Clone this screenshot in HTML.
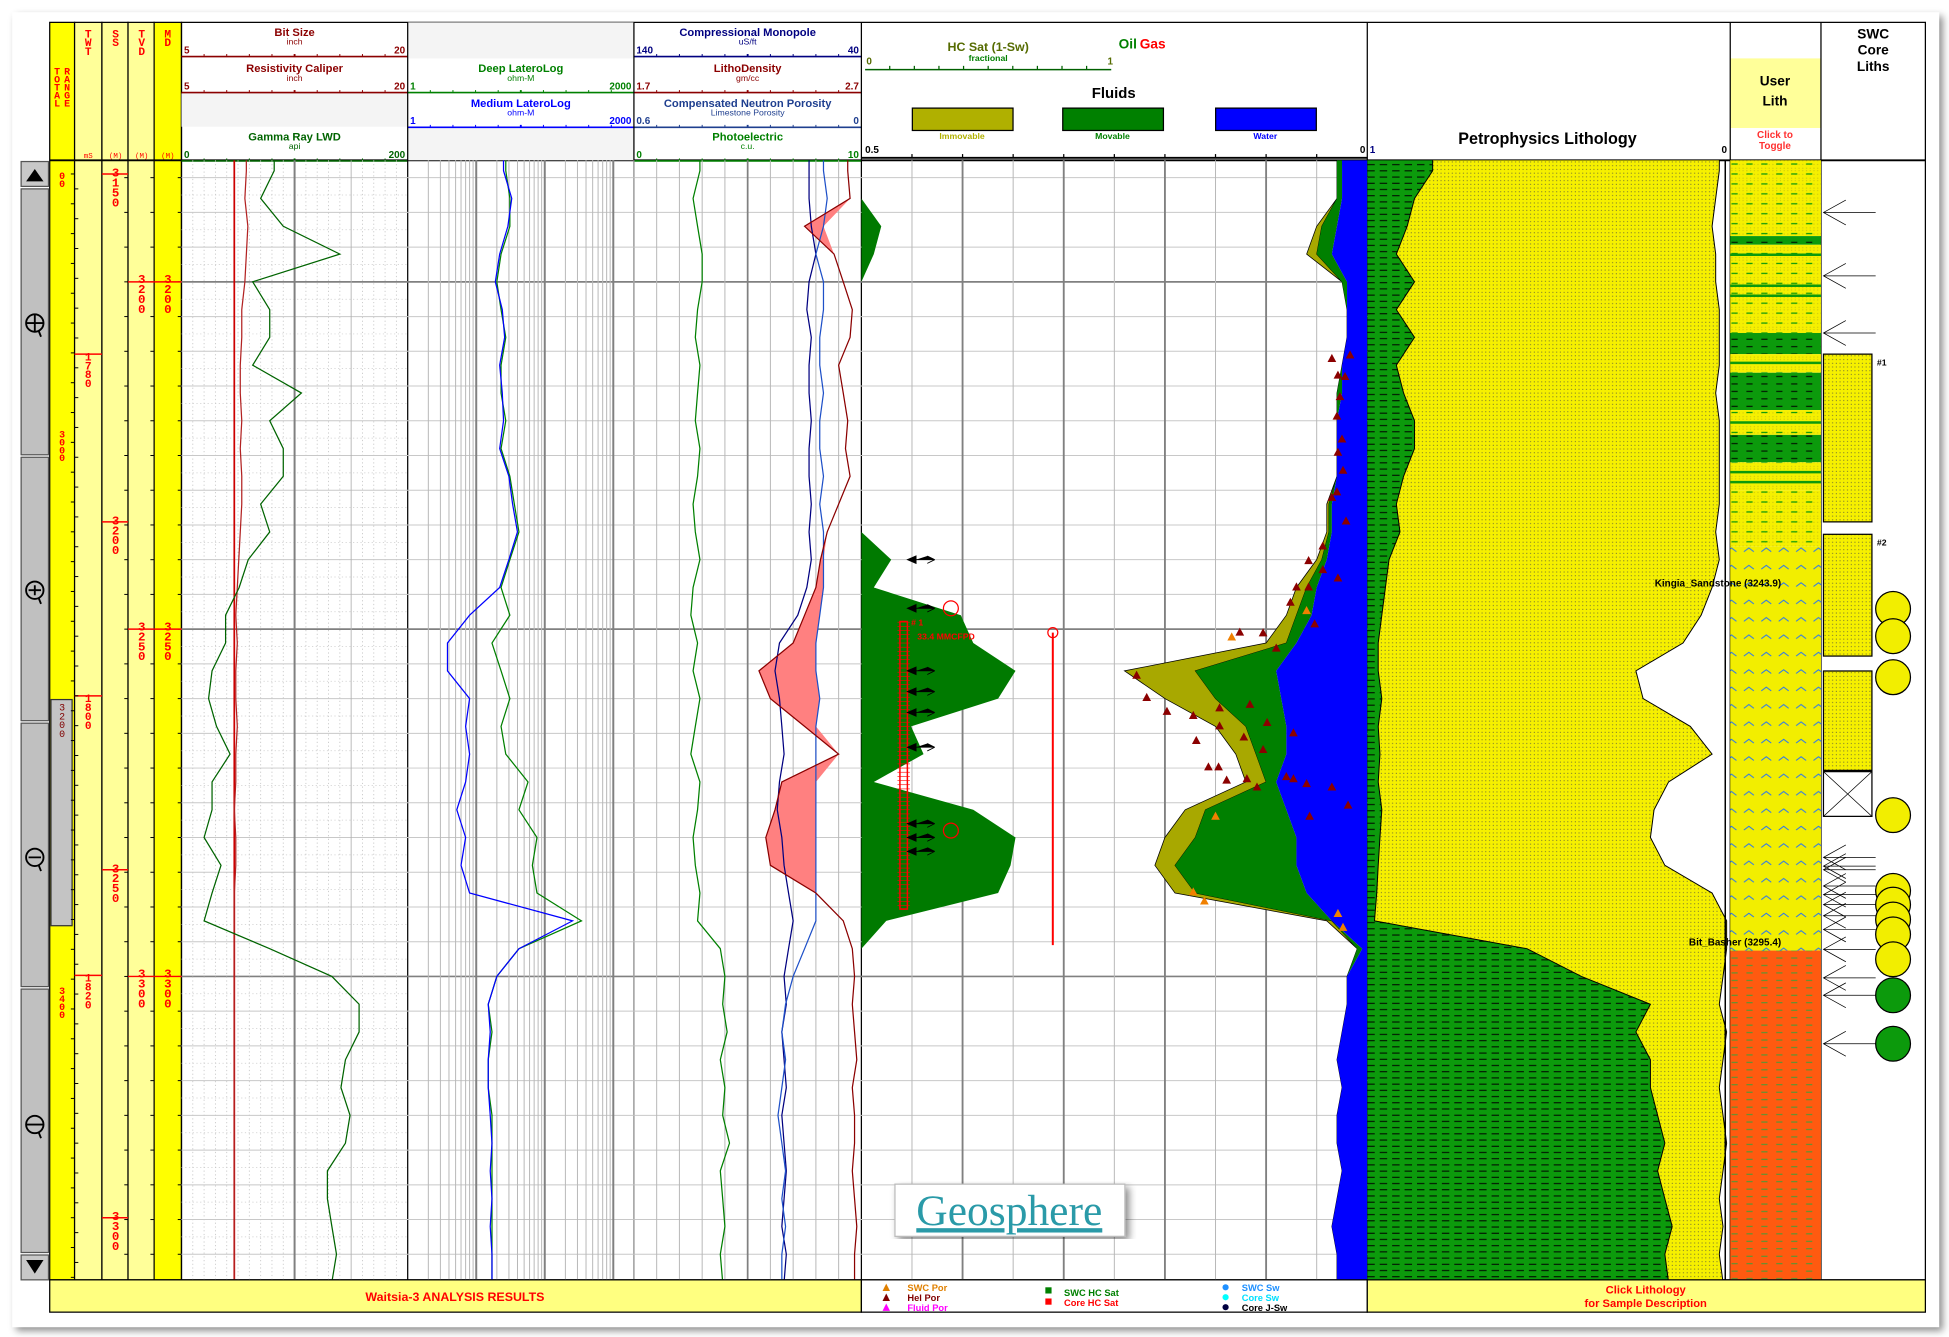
<!DOCTYPE html>
<html><head><meta charset="utf-8"><title>Waitsia-3 Analysis Results</title>
<style>
html,body{margin:0;padding:0;background:#fff;overflow:hidden}
svg{display:block;font-family:"Liberation Sans Narrow","Liberation Sans",sans-serif}
.t{font-weight:bold;text-anchor:middle}
</style></head><body>
<svg id="chart" xmlns="http://www.w3.org/2000/svg" viewBox="0 0 1568 1076" width="1949" height="1337" preserveAspectRatio="none">
<defs>
<filter id="sh" x="-5%" y="-5%" width="110%" height="110%"><feDropShadow dx="3" dy="3" stdDeviation="3" flood-color="#000" flood-opacity="0.45"/></filter>
<pattern id="shalePat" width="10" height="5" patternUnits="userSpaceOnUse"><rect width="10" height="5" fill="#0c9a0c"/><line x1="0" y1="2.5" x2="6" y2="2.5" stroke="#000" stroke-width="0.8"/></pattern>
<pattern id="sandPat" width="3" height="3" patternUnits="userSpaceOnUse"><rect width="3" height="3" fill="#f6f000"/><rect x="1" y="1" width="0.7" height="0.7" fill="#444"/></pattern>
<pattern id="ulSand" width="12" height="8" patternUnits="userSpaceOnUse"><rect width="12" height="8" fill="url(#sandPat)"/><rect width="12" height="8" fill="#f6f000" opacity="0.6"/><line x1="1" y1="4" x2="6" y2="4" stroke="#0a9a0a" stroke-width="1"/></pattern>
<pattern id="ulTri" width="14" height="14" patternUnits="userSpaceOnUse"><rect width="14" height="14" fill="#f2ee00"/><path d="M3 10 L7 7 L11 10" fill="none" stroke="#1e6fff" stroke-width="0.8"/></pattern>
<pattern id="ulOrange" width="12" height="6" patternUnits="userSpaceOnUse"><rect width="12" height="6" fill="#ff5a10"/><line x1="1" y1="3" x2="6" y2="3" stroke="#3aa03a" stroke-width="0.8"/></pattern>
<pattern id="ulGreen" width="12" height="6" patternUnits="userSpaceOnUse"><rect width="12" height="6" fill="#0c9a0c"/><line x1="1" y1="3" x2="6" y2="3" stroke="#000" stroke-width="0.8"/></pattern>
<clipPath id="c1"><rect x="146" y="129" width="182" height="901"/></clipPath>
<clipPath id="c2"><rect x="328" y="129" width="182" height="901"/></clipPath>
<clipPath id="c3"><rect x="510" y="129" width="183" height="901"/></clipPath>
<clipPath id="c4"><rect x="693" y="129" width="407" height="901"/></clipPath>
<clipPath id="c5"><rect x="1100" y="129" width="292" height="901"/></clipPath>
</defs>
<rect x="0" y="0" width="1568" height="1076" fill="#fff"/>
<rect x="10" y="10" width="1550" height="1058" fill="#fff" filter="url(#sh)"/>

<rect x="40" y="18" width="20" height="1012" fill="#ffff00" stroke="#000" stroke-width="1"/>
<rect x="60" y="18" width="22" height="1012" fill="#ffff99" stroke="#000" stroke-width="1"/>
<rect x="82" y="18" width="21" height="1012" fill="#ffff99" stroke="#000" stroke-width="1"/>
<rect x="103" y="18" width="21" height="1012" fill="#ffff99" stroke="#000" stroke-width="1"/>
<rect x="124" y="18" width="22" height="1012" fill="#ffff00" stroke="#000" stroke-width="1"/>
<g id="depthText" fill="#ff0000" font-family="Liberation Mono,monospace" font-size="9" text-anchor="middle"></g>

<g>
<rect x="17" y="130" width="22" height="20" fill="#c8c8c8" stroke="#555"/>
<path d="M21 146 L28 136 L35 146 Z" fill="#000"/>
<rect x="17" y="152" width="22" height="214" fill="#c0c0c0" stroke="#555"/>
<rect x="17" y="368" width="22" height="212" fill="#c0c0c0" stroke="#555"/>
<rect x="17" y="582" width="22" height="212" fill="#c0c0c0" stroke="#555"/>
<rect x="17" y="796" width="22" height="212" fill="#c0c0c0" stroke="#555"/>
<rect x="17" y="1010" width="22" height="20" fill="#c8c8c8" stroke="#555"/>
<path d="M21 1014 L28 1025 L35 1014 Z" fill="#000"/>
<g fill="none" stroke="#000" stroke-width="1.5">
<circle cx="28" cy="260" r="7"/><path d="M21 260 H35 M28 253 V267 M31 266 L33 271"/>
<circle cx="28" cy="475" r="7"/><path d="M23 475 H33 M28 471 V479 M31 481 L33 486"/>
<circle cx="28" cy="690" r="7"/><path d="M23 690 H33 M31 696 L33 701"/>
<circle cx="28" cy="905" r="7"/><path d="M21 905 H35 M31 911 L33 916"/>
</g>
<rect x="41" y="563" width="17" height="182" fill="#c4c4c4" stroke="#333"/>
<text x="50" y="572" font-size="8" fill="#800000" font-family="Liberation Mono,monospace" text-anchor="middle"><tspan x="50" dy="0">3</tspan><tspan x="50" dy="7">2</tspan><tspan x="50" dy="7">0</tspan><tspan x="50" dy="7">0</tspan></text>
</g>

<rect x="146" y="18" width="1403" height="1012" fill="none" stroke="#000" stroke-width="1"/>
<line x1="40" y1="129" x2="1549" y2="129" stroke="#000" stroke-width="1.5"/>
<rect x="146" y="75" width="182" height="27" fill="#f4f4f4"/>
<rect x="328" y="18" width="182" height="29" fill="#f4f4f4"/>
<rect x="328" y="102" width="182" height="27" fill="#f4f4f4"/>
<g id="hdr"></g>

<g font-size="8" fill="#000">
<text class="t" x="795" y="41" font-size="10" fill="#556b00">HC Sat (1-Sw)</text>
<text class="t" x="795" y="49" font-size="7" fill="#008000">fractional</text>
<text x="697" y="52" font-size="8" fill="#556b00" font-weight="bold">0</text>
<text x="891" y="52" font-size="8" fill="#556b00" font-weight="bold">1</text>
<line x1="696" y1="56" x2="894" y2="56" stroke="#006000" stroke-width="1.2"/>
<text x="900" y="39" font-size="11" font-weight="bold" fill="#008000">Oil</text>
<text x="917" y="39" font-size="11" font-weight="bold" fill="#ff0000">Gas</text>
<text class="t" x="896" y="79" font-size="12" fill="#000">Fluids</text>
<rect x="734" y="87" width="81" height="18" fill="#b0b000" stroke="#000"/>
<rect x="855" y="87" width="81" height="18" fill="#008000" stroke="#000"/>
<rect x="978" y="87" width="81" height="18" fill="#0000ff" stroke="#000"/>
<text class="t" x="774" y="112" font-size="7" fill="#b0b000">Immovable</text>
<text class="t" x="895" y="112" font-size="7" fill="#008000">Movable</text>
<text class="t" x="1018" y="112" font-size="7" fill="#0000ff">Water</text>
<text x="696" y="123" font-size="8" font-weight="bold">0.5</text>
<text x="1094" y="123" font-size="8" font-weight="bold">0</text>
<line x1="693" y1="127" x2="1100" y2="127" stroke="#000" stroke-width="1.5"/>
<text class="t" x="1245" y="116" font-size="13" fill="#000" font-family="Liberation Sans,sans-serif">Petrophysics Lithology</text>
<text x="1102" y="123" font-size="8" font-weight="bold" fill="#000080">1</text>
<text x="1385" y="123" font-size="8" font-weight="bold">0</text>
<rect x="1392" y="47" width="73" height="56" fill="#ffff99"/>
<text class="t" x="1428" y="69" font-size="11">User</text>
<text class="t" x="1428" y="85" font-size="11">Lith</text>
<text class="t" x="1428" y="111" font-size="8" fill="#ff3030" font-weight="normal">Click to</text>
<text class="t" x="1428" y="120" font-size="8" fill="#ff3030" font-weight="normal">Toggle</text>
<text class="t" x="1507" y="31" font-size="11">SWC</text>
<text class="t" x="1507" y="44" font-size="11">Core</text>
<text class="t" x="1507" y="57" font-size="11">Liths</text>
</g>
<line x1="693" y1="18" x2="693" y2="1056" stroke="#000"/>
<line x1="1100" y1="18" x2="1100" y2="1056" stroke="#000"/>
<line x1="1392" y1="18" x2="1392" y2="1030" stroke="#000"/>
<line x1="1465" y1="18" x2="1465" y2="1030" stroke="#000"/>
<line x1="328" y1="18" x2="328" y2="1030" stroke="#000"/>
<line x1="510" y1="18" x2="510" y2="1030" stroke="#000"/>

<g id="grid"></g>
<g id="curves"></g>

<rect x="40" y="1030" width="653" height="26" fill="#ffff80" stroke="#000"/>
<text class="t" x="366" y="1047" font-size="10" fill="#ff0000">Waitsia-3 ANALYSIS RESULTS</text>
<rect x="693" y="1030" width="407" height="26" fill="#fff" stroke="#000"/>
<rect x="1100" y="1030" width="449" height="26" fill="#ffff80" stroke="#000"/>
<text class="t" x="1324" y="1041" font-size="9" fill="#ff0000">Click Lithology</text>
<text class="t" x="1324" y="1052" font-size="9" fill="#ff0000">for Sample Description</text>
<g font-size="7.5" font-weight="bold">
<path d="M710 1039 L713 1033 L716 1039Z" fill="#e08000"/><text x="730" y="1039" fill="#e08000">SWC Por</text>
<path d="M710 1047 L713 1041 L716 1047Z" fill="#800000"/><text x="730" y="1047" fill="#800000">Hel Por</text>
<path d="M710 1055 L713 1049 L716 1055Z" fill="#ff00ff"/><text x="730" y="1055" fill="#ff00ff">Fluid Por</text>
<rect x="841" y="1036" width="5" height="5" fill="#008000"/><text x="856" y="1043" fill="#008000">SWC HC Sat</text>
<rect x="841" y="1045" width="5" height="5" fill="#ff0000"/><text x="856" y="1051" fill="#ff0000">Core HC Sat</text>
<circle cx="986" cy="1036" r="2.5" fill="#1e90ff"/><text x="999" y="1039" fill="#1e90ff">SWC Sw</text>
<circle cx="986" cy="1044" r="2.5" fill="#00ffff"/><text x="999" y="1047" fill="#00e0ff">Core Sw</text>
<circle cx="986" cy="1052" r="2.5" fill="#000040"/><text x="999" y="1055" fill="#000">Core J-Sw</text>
</g>

<g>
<rect x="720" y="953" width="185" height="42" fill="#fff" stroke="#bbb" filter="url(#sh)"/>
<text x="812" y="986" text-anchor="middle" font-family="Liberation Serif,serif" font-size="35" fill="#2a9aa8" text-decoration="underline">Geosphere</text>
</g>
</svg>
<script>
const depths=[3184,3188,3192,3196,3200,3204,3208,3212,3216,3220,3224,3228,3232,3236,3240,3244,3248,3252,3256,3260,3264,3268,3272,3276,3280,3284,3288,3292,3296,3300,3304,3308,3312,3316,3320,3324,3328,3332,3336,3340,3344];
const grApi=[82,70,90,140,63,78,78,63,106,78,90,90,70,78,59,51,39,39,27,24,31,43,27,27,20,35,27,20,78,133,157,157,145,141,149,145,129,129,133,137,133];
const calInch=[9.3,9.2,9.4,9.3,9.2,9.0,9.0,8.9,8.9,9.0,8.9,9.0,9.0,8.9,8.8,8.7,8.6,8.7,8.6,8.6,8.7,8.6,8.6,8.5,8.6,8.6,8.5,8.5,8.5,8.5,8.5,8.5,8.5,8.5,8.5,8.5,8.5,8.5,8.5,8.5,8.5];
const bitInch=[8.5,8.5,8.5,8.5,8.5,8.5,8.5,8.5,8.5,8.5,8.5,8.5,8.5,8.5,8.5,8.5,8.5,8.5,8.5,8.5,8.5,8.5,8.5,8.5,8.5,8.5,8.5,8.5,8.5,8.5,8.5,8.5,8.5,8.5,8.5,8.5,8.5,8.5,8.5,8.5,8.5];
const deepRes=[27,31,31,23,20,23,27,23,23,27,23,31,36,42,31,23,31,17,23,31,23,27,57,42,77,66,77,343,42,20,15,17,15,15,17,17,17,17,17,17,17];
const medRes=[25,33,29,22,19,24,26,22,24,25,22,30,34,40,30,22,8,3.8,3.8,8,7,8,7,5.2,7,6,8,254,42,20,15,16,15,15,16,17,16,17,16,17,17];
const dtUs=[63,63,62,60,63,64,62,63,63,62,63,63,62,63,62,64,68,76,78,76,75,74,76,77,75,74,72,70,72,74,73,75,74,73,75,74,73,74,75,73,74];
const nphiV=[0.10,0.09,0.10,0.12,0.10,0.10,0.11,0.11,0.10,0.11,0.11,0.10,0.11,0.10,0.10,0.10,0.11,0.12,0.12,0.11,0.12,0.12,0.12,0.12,0.12,0.12,0.12,0.12,0.15,0.18,0.20,0.21,0.20,0.21,0.22,0.21,0.20,0.21,0.20,0.21,0.21];
const rhobV=[2.64,2.65,2.45,2.58,2.62,2.66,2.65,2.60,2.62,2.64,2.63,2.65,2.60,2.55,2.52,2.50,2.45,2.40,2.25,2.30,2.45,2.60,2.35,2.32,2.28,2.30,2.50,2.62,2.66,2.67,2.66,2.67,2.68,2.66,2.67,2.67,2.66,2.67,2.68,2.67,2.67];
const peV=[2.9,2.6,2.8,3.0,3.0,2.8,2.7,2.9,2.8,2.7,2.9,2.8,2.6,2.7,2.9,2.6,2.5,2.8,2.6,2.9,2.7,2.5,2.9,2.8,2.6,2.7,2.9,2.8,3.8,4.0,3.9,4.1,3.8,4.0,3.9,4.2,3.8,3.9,4.0,3.8,3.9];
const hcSat=[0,0,0.08,0.05,0,0,0,0,0,0,0,0,0,0,0.12,0.05,0.4,0.45,0.62,0.55,0.2,0.25,0.05,0.45,0.62,0.6,0.55,0.1,0,0,0,0,0,0,0,0,0,0,0,0,0];
const phieV=[0.03,0.03,0.05,0.06,0.025,0.02,0.02,0.025,0.03,0.03,0.03,0.03,0.04,0.04,0.05,0.07,0.08,0.10,0.24,0.20,0.15,0.13,0.12,0.18,0.20,0.21,0.19,0.04,0.01,0.02,0.02,0.025,0.03,0.025,0.03,0.03,0.025,0.03,0.035,0.03,0.03];
const bviV=[0.03,0.03,0.045,0.05,0.025,0.02,0.02,0.025,0.03,0.03,0.03,0.03,0.038,0.038,0.045,0.06,0.07,0.08,0.17,0.15,0.12,0.11,0.10,0.16,0.17,0.19,0.17,0.035,0.01,0.02,0.02,0.025,0.03,0.025,0.03,0.03,0.025,0.03,0.035,0.03,0.03];
const bvwV=[0.025,0.025,0.03,0.035,0.02,0.02,0.02,0.025,0.025,0.03,0.03,0.03,0.035,0.035,0.04,0.05,0.055,0.07,0.09,0.085,0.08,0.08,0.09,0.08,0.07,0.07,0.06,0.035,0.005,0.02,0.02,0.025,0.03,0.025,0.03,0.03,0.025,0.03,0.035,0.03,0.03];
const vshV=[0.18,0.13,0.11,0.08,0.13,0.08,0.13,0.08,0.10,0.13,0.13,0.10,0.08,0.09,0.06,0.05,0.04,0.03,0.03,0.04,0.03,0.035,0.03,0.04,0.035,0.03,0.026,0.02,0.44,0.59,0.78,0.74,0.78,0.78,0.80,0.82,0.80,0.82,0.84,0.82,0.83];
const matrixV=[0.97,0.96,0.95,0.96,0.96,0.97,0.97,0.97,0.96,0.97,0.97,0.97,0.97,0.96,0.97,0.95,0.92,0.87,0.74,0.76,0.89,0.95,0.83,0.79,0.78,0.82,0.95,0.99,0.99,0.98,0.97,0.99,0.98,0.97,0.98,0.99,0.98,0.97,0.98,0.97,0.98];
const helDepth=[3210.5,3211.0,3213.4,3213.6,3216.5,3219.3,3222.6,3224.5,3227.1,3231.0,3230.2,3234.4,3238.0,3240.1,3241.4,3242.6,3243.9,3243.9,3246.1,3249.2,3252.7,3250.5,3250.4,3256.6,3259.8,3261.8,3262.4,3261.3,3260.8,3263.4,3263.9,3266.0,3265.5,3267.3,3264.9,3269.8,3269.8,3271.7,3271.5,3272.7,3271.2,3271.5,3272.2,3272.7,3276.9,3275.3];
const helPor=[0.017,0.035,0.029,0.022,0.027,0.030,0.025,0.029,0.024,0.035,0.030,0.021,0.044,0.058,0.044,0.029,0.070,0.058,0.076,0.052,0.090,0.103,0.126,0.228,0.218,0.198,0.172,0.146,0.116,0.099,0.146,0.169,0.122,0.103,0.073,0.157,0.147,0.139,0.119,0.109,0.080,0.073,0.060,0.035,0.057,0.019];
const swcDepth=[3247.3,3251.1,3276.9,3287.8,3289.1,3290.9,3292.9];
const swcPor=[0.060,0.134,0.150,0.172,0.161,0.029,0.024];
const mdTicks=[3200,3250,3300];
const ssTicks=[3150,3200,3250,3300];
const twtTicks=[1780,1800,1820];

const NS='http://www.w3.org/2000/svg';
const TOP=129, BOT=1030;
const Y=d=>129+(d-3182.5)*5.59;
const xGR=v=>146+v/200*182;
const xCal=v=>146+(v-5)/15*182;
const xRes=v=>328+Math.log10(v)/Math.log10(2000)*182;
const xDT=v=>510+(140-v)/100*183;
const xNPHI=v=>510+(0.6-v)/0.6*183;
const xRHOB=v=>510+(v-1.7)/1.0*183;
const xPE=v=>510+v/10*183;
const xHC=v=>693+v*200;
const xPor=v=>1100-v/0.5*407;
const xLith=v=>1100+v*292;

function mk(tag,attrs,parent){const e=document.createElementNS(NS,tag);for(const k in attrs)e.setAttribute(k,attrs[k]);parent.appendChild(e);return e;}
const grid=document.getElementById('grid');
const curves=document.getElementById('curves');
const hdr=document.getElementById('hdr');
const dtext=document.getElementById('depthText');

const hdrRows=[
 [146,18,'Bit Size','inch','5','20','#8b0000'],
 [146,47,'Resistivity Caliper','inch','5','20','#8b0000'],
 [146,102,'Gamma Ray LWD','api','0','200','#006400'],
 [328,47,'Deep LateroLog','ohm-M','1','2000','#008000'],
 [328,75,'Medium LateroLog','ohm-M','1','2000','#0000ff'],
 [510,18,'Compressional Monopole','uS/ft','140','40','#000080'],
 [510,47,'LithoDensity','gm/cc','1.7','2.7','#8b0000'],
 [510,75,'Compensated Neutron Porosity','Limestone Porosity','0.6','0','#1f3f8f'],
 [510,102,'Photoelectric','c.u.','0','10','#008000']
];
hdrRows.forEach(r=>{
 const [x,y,title,unit,lo,hi,c]=r;
 const g=mk('g',{},hdr);
 
 
 const w=(x===510?183:182);
 mk('text',{x:x+w/2,y:y+11,'font-size':9,'font-weight':'bold','text-anchor':'middle',fill:c},g).textContent=title;
 mk('text',{x:x+w/2,y:y+18,'font-size':7,'text-anchor':'middle',fill:c},g).textContent=unit;
 mk('text',{x:x+2,y:y+25,'font-size':8,'font-weight':'bold',fill:c},g).textContent=lo;
 mk('text',{x:x+w-2,y:y+25,'font-size':8,'font-weight':'bold','text-anchor':'end',fill:c},g).textContent=hi;
 mk('line',{x1:x,y1:y+27.5,x2:x+w,y2:y+27.5,stroke:c,'stroke-width':1.3},g);
 for(let i=1;i<10;i++)mk('line',{x1:x+w*i/10,y1:y+25.5,x2:x+w*i/10,y2:y+27.5,stroke:c,'stroke-width':i===5?1.5:0.8},g);
});
for(let i=1;i<10;i++){mk('line',{x1:696+19.8*i,y1:53,x2:696+19.8*i,y2:56,stroke:'#006000'},hdr);}
for(let i=1;i<10;i++){mk('line',{x1:693+40.7*i,y1:124,x2:693+40.7*i,y2:127,stroke:'#000'},hdr);}

for(let d=3185;d<=3340;d+=5){
 const y=Y(d);const major=(d%50===0);
 const l=mk('line',{x1:146,y1:y,x2:1100,y2:y,stroke:major?'#808080':'#c8c8c8','stroke-width':major?1.4:0.8},grid);
 
 
}
for(let d=3185+2.5;d<=3342;d+=5){mk('line',{x1:146,y1:Y(d),x2:328,y2:Y(d),stroke:'#ccc','stroke-width':0.6,'stroke-dasharray':'1,2'},grid);}
for(let v=10;v<200;v+=10){const x=xGR(v);mk('line',{x1:x,y1:TOP,x2:x,y2:BOT,stroke:v===100?'#808080':(v===150?'#b0b0b0':'#c8c8c8'),'stroke-width':v===100?1.6:0.7,'stroke-dasharray':(v===100||v===150)?'':'1,2'},grid);}
[1,10,100,1000].forEach(dec=>{for(let m=1;m<10;m++){const v=dec*m;if(v>2000||v===1)continue;const x=xRes(v);mk('line',{x1:x,y1:TOP,x2:x,y2:BOT,stroke:m===1?'#808080':'#b8b8b8','stroke-width':m===1?1.6:0.8},grid);}});
for(let i=1;i<10;i++){const x=510+18.3*i;mk('line',{x1:x,y1:TOP,x2:x,y2:BOT,stroke:i===5?'#808080':'#b8b8b8','stroke-width':i===5?1.4:0.8},grid);}
for(let i=1;i<10;i++){const x=1100-40.7*i;mk('line',{x1:x,y1:TOP,x2:x,y2:BOT,stroke:i%2===0?'#808080':'#b8b8b8','stroke-width':i%2===0?1.5:0.8},grid);}

function vtext(x,y,s,fs){const t=mk('text',{x:x,y:y,'font-size':fs||10,'font-weight':'bold'},dtext);for(let i=0;i<s.length;i++){const sp=mk('tspan',{x:x,dy:i===0?0:(fs||10)*0.8},t);sp.textContent=s[i];}return t;}
for(let d=3185;d<=3340;d+=5){const y=Y(d);[[82,103],[103,124],[124,146]].forEach(c=>{mk('line',{x1:c[1]-3,y1:y,x2:c[1],y2:y,stroke:'#000','stroke-width':0.8},grid);});}
mdTicks.forEach(d=>{const y=Y(d);
 let t=vtext(135,y+1,String(d),10);
 t=vtext(114,y+1,String(d),10);
 mk('line',{x1:124,y1:y,x2:146,y2:y,stroke:'#ff0000','stroke-width':1.2},grid);
 mk('line',{x1:103,y1:y,x2:124,y2:y,stroke:'#ff0000','stroke-width':1.2},grid);
});
const ssY=[150,430,710,990];
ssTicks.forEach((d,i)=>{const t=vtext(93,ssY[i]-8,String(d),10);mk('line',{x1:82,y1:ssY[i]-10,x2:103,y2:ssY[i]-10,stroke:'#ff0000','stroke-width':1.2},grid);});
const twtY=[290,565,790];
twtTicks.forEach((d,i)=>{const t=vtext(71,twtY[i],String(d),9);mk('line',{x1:60,y1:twtY[i]-5,x2:82,y2:twtY[i]-5,stroke:'#ff0000','stroke-width':1.2},grid);});
vtext(50,144,'00',8);vtext(50,352,'3000',8);vtext(50,800,'3400',8);
vtext(71,30,'TWT',9);vtext(93,30,'SS',9);vtext(114,30,'TVD',9);vtext(135,30,'MD',9);
vtext(46,60,'TOTAL',8);vtext(54,60,'RANGE',8);
mk('text',{x:71,y:127,'font-size':6},dtext).textContent='mS';
mk('text',{x:93,y:127,'font-size':6},dtext).textContent='(M)';
mk('text',{x:114,y:127,'font-size':6},dtext).textContent='(M)';
mk('text',{x:135,y:127,'font-size':6},dtext).textContent='(M)';
for(let y=140;y<1030;y+=24){mk('line',{x1:57,y1:y,x2:60,y2:y,stroke:'#000','stroke-width':0.8},grid);mk('line',{x1:60,y1:y+12,x2:63,y2:y+12,stroke:'#000','stroke-width':0.8},grid);}

function pts(vals,xf){const p=[];p.push(xf(vals[0])+','+TOP);depths.forEach((d,i)=>p.push(xf(vals[i]).toFixed(1)+','+Y(d).toFixed(1)));p.push(xf(vals[vals.length-1])+','+BOT);return p;}
function line(vals,xf,color,w,clip){const e=mk('polyline',{points:pts(vals,xf).join(' '),fill:'none',stroke:color,'stroke-width':w,'clip-path':'url(#'+clip+')'},curves);return e;}
function band(leftVals,lxf,rightVals,rxf,fill,clip,stroke){
 const a=pts(leftVals,lxf), b=pts(rightVals,rxf).reverse();
 return mk('polygon',{points:a.concat(b).join(' '),fill:fill,stroke:stroke||'none','stroke-width':0.6,'clip-path':'url(#'+clip+')'},curves);
}
const zeros=depths.map(()=>0);

let e;
e=line(bitInch,xCal,'#cc0000',1.4,'c1');
e=line(calInch,xCal,'#b22222',1,'c1');
e=line(grApi,xGR,'#006400',1,'c1');
e=line(deepRes,xRes,'#008000',1,'c2');
e=line(medRes,xRes,'#0000ff',1,'c2');
const crossRight=depths.map((d,i)=>Math.max(xRHOB(rhobV[i]),xNPHI(nphiV[i])));
e=band(rhobV,xRHOB,crossRight,v=>v,'#ff8080','c3');
e=line(peV,xPE,'#008000',1,'c3');
e=line(dtUs,xDT,'#000080',1,'c3');
e=line(nphiV,xNPHI,'#1e50c8',1,'c3');
e=line(rhobV,xRHOB,'#8b0000',1,'c3');
e=band(zeros,xHC,hcSat,xHC,'#007a00','c4');
e=band(phieV,xPor,bviV,xPor,'#a8a800','c4','#000');
e=band(bviV,xPor,bvwV,xPor,'#008000','c4');
e=band(bvwV,xPor,zeros,xPor,'#0000ff','c4');
helDepth.forEach((d,i)=>{const x=xPor(helPor[i]),y=Y(d);
 const t=mk('path',{d:`M${x-3.5} ${y+3} L${x} ${y-3.5} L${x+3.5} ${y+3}Z`,fill:'#8b0000'},curves);
 
 });
swcDepth.forEach((d,i)=>{const x=xPor(swcPor[i]),y=Y(d);
 const t=mk('path',{d:`M${x-3.5} ${y+3} L${x} ${y-3.5} L${x+3.5} ${y+3}Z`,fill:'#f08000'},curves);
 
 });
const perf=mk('g',{},curves);


mk('rect',{x:724,y:Y(3248.9),width:6,height:Y(3290.3)-Y(3248.9),fill:'none',stroke:'#ff0000','stroke-width':1.2},perf);
for(let d=3249;d<3290;d+=0.6)mk('line',{x1:722,y1:Y(d),x2:732,y2:Y(d),stroke:'#ff0000','stroke-width':0.5},perf);
mk('line',{x1:847,y1:Y(3250.5),x2:847,y2:Y(3295.5),stroke:'#ff0000','stroke-width':1.6},perf);
mk('circle',{cx:847,cy:Y(3250.5),r:4,fill:'none',stroke:'#ff0000'},perf);
mk('circle',{cx:765,cy:Y(3247),r:6,fill:'none',stroke:'#ff0000'},perf);
mk('circle',{cx:765,cy:Y(3279),r:6,fill:'none',stroke:'#ff0000'},perf);
const tt=mk('text',{x:733,y:Y(3249.5),'font-size':7,fill:'#ff0000','font-weight':'bold'},perf);tt.textContent='# 1';
const tt2=mk('text',{x:738,y:Y(3251.5),'font-size':7,fill:'#ff0000','font-weight':'bold'},perf);tt2.textContent='33.4 MMCFPD';
[3240,3247,3256,3259,3262,3267,3278,3280,3282].forEach(d=>{const y=Y(d);mk('path',{d:`M730 ${y} L737 ${y-3} L737 ${y+3}Z M737 ${y} H752 L746 ${y-3} M752 ${y} L746 ${y+3}`,fill:'#000',stroke:'#000','stroke-width':0.7},perf);});
e=band(zeros,xLith,vshV,xLith,'url(#shalePat)','c5');
e=band(vshV,xLith,matrixV,xLith,'url(#sandPat)','c5');
e=line(vshV,xLith,'#000',0.8,'c5');
e=line(matrixV,xLith,'#000',0.8,'c5');
mk('line',{x1:1388,y1:TOP,x2:1388,y2:BOT,stroke:'#000','stroke-width':1.2},curves);

const ul=mk('g',{},curves);


[[129,190,'url(#ulSand)'],[190,197,'url(#ulGreen)'],[197,268,'url(#ulSand)'],[268,285,'url(#ulGreen)'],[285,300,'url(#ulSand)'],[300,330,'url(#ulGreen)'],[330,350,'url(#ulSand)'],[350,372,'url(#ulGreen)'],[372,395,'url(#ulSand)'],[395,440,'url(#ulSand)'],[440,765,'url(#ulTri)'],[765,1030,'url(#ulOrange)']].forEach(b=>{
 mk('rect',{x:1392,y:b[0],width:73,height:b[1]-b[0],fill:b[2]},ul);});
[205,230,238,292,340,380,388].forEach(y=>mk('line',{x1:1392,y1:y,x2:1465,y2:y,stroke:'#0c9a0c','stroke-width':2},ul));
const k1=mk('text',{x:1433,y:472,'font-size':8,'font-weight':'bold','text-anchor':'end',fill:'#000'},ul);k1.textContent='Kingia_Sandstone (3243.9)';
const k2=mk('text',{x:1433,y:761,'font-size':8,'font-weight':'bold','text-anchor':'end',fill:'#000'},ul);k2.textContent='Bit_Basher (3295.4)';

const sw=mk('g',{},curves);


[[285,420,'#1'],[430,528,'#2'],[540,620,'#3']].forEach(b=>{mk('rect',{x:1467,y:b[0],width:39,height:b[1]-b[0],fill:'url(#sandPat)',stroke:'#000'},sw);const t=mk('text',{x:1510,y:b[0]+9,'font-size':7,'font-weight':'bold'},sw);t.textContent=b[2];});
mk('rect',{x:1467,y:621,width:39,height:36,fill:'#fff',stroke:'#000'},sw);
mk('path',{d:'M1467 621 L1506 657 M1506 621 L1467 657',stroke:'#000','stroke-width':0.6},sw);
[490,512,545,656,717,728,740,752,772,801,840].forEach(y=>{const c=mk('circle',{cx:1523,cy:y,r:14,fill:y>790?'#0c9a0c':'#f2ee00',stroke:'#000'},sw);});
[171,222,268,690,697,700,713,720,728,737,748,764,787,801,840].forEach(y=>{mk('path',{d:`M1485 ${y-10} L1467 ${y} L1485 ${y+10} M1467 ${y} H1509`,fill:'none',stroke:'#000','stroke-width':0.6},sw);});
</script>
</body></html>
